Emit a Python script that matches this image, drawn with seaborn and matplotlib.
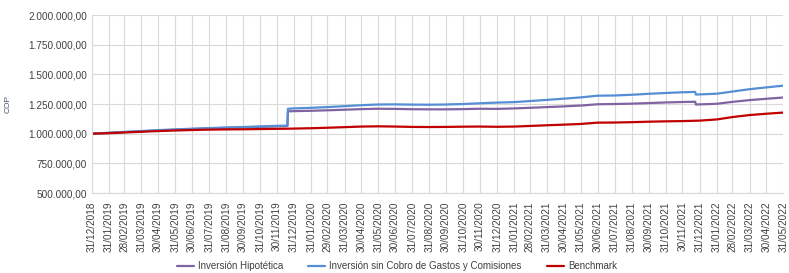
import matplotlib
matplotlib.use("Agg")
import matplotlib.pyplot as plt
import matplotlib.dates as mdates
import matplotlib.ticker as mticker
import pandas as pd
import seaborn as sns

# fechas (incluye los saltos de dic-2019 y dic-2021)
dates = (
    list(pd.date_range("2018-12-31", "2019-11-30", freq="ME").strftime("%Y-%m-%d"))
    + ["2019-12-19", "2019-12-20"]
    + list(pd.date_range("2019-12-31", "2021-11-30", freq="ME").strftime("%Y-%m-%d"))
    + ["2021-12-23", "2021-12-24"]
    + list(pd.date_range("2021-12-31", "2022-05-31", freq="ME").strftime("%Y-%m-%d"))
)

inversion_hipotetica = [
    1000000, 1006000, 1013000, 1020000, 1027000, 1033000, 1039000, 1044000, 1049000, 1053000, 1058000, 1062000,
    1064000, 1188000,
    1190000, 1193000, 1197000, 1202000, 1207000, 1210000, 1209000, 1206000, 1205000, 1205000, 1207000, 1210000,
    1209000, 1213000, 1218000, 1224000, 1230000, 1237000, 1248000, 1250000, 1253000, 1258000, 1263000, 1267000,
    1269000, 1246000,
    1247000, 1252000, 1268000, 1283000, 1294000, 1305000,
]
inversion_sin_gastos = [
    1000000, 1008000, 1015000, 1022000, 1030000, 1036000, 1042000, 1047000, 1052000, 1056000, 1061000, 1066000,
    1068000, 1210000,
    1213000, 1218000, 1224000, 1232000, 1240000, 1246000, 1247000, 1245000, 1244000, 1246000, 1250000, 1256000,
    1262000, 1266000, 1275000, 1285000, 1295000, 1306000, 1320000, 1322000, 1328000, 1336000, 1343000, 1349000,
    1352000, 1330000,
    1331000, 1337000, 1355000, 1375000, 1390000, 1405000,
]
benchmark = [
    1000000, 1004000, 1010000, 1016000, 1022000, 1027000, 1031000, 1034000, 1036000, 1037000, 1039000, 1041000,
    1042000, 1042000,
    1043000, 1046000, 1050000, 1055000, 1060000, 1062000, 1060000, 1057000, 1056000, 1057000, 1059000, 1060000,
    1058000, 1060000, 1065000, 1071000, 1076000, 1082000, 1093000, 1094000, 1097000, 1101000, 1104000, 1106000,
    1109000, 1109000,
    1110000, 1120000, 1140000, 1157000, 1168000, 1178000,
]

series_names = ["Inversión Hipotética", "Inversión sin Cobro de Gastos y Comisiones", "Benchmark"]
colors = ["#8064A2", "#558ED5", "#C00000"]

df = pd.concat([
    pd.DataFrame({"fecha": pd.to_datetime(dates), "valor": vals, "serie": name})
    for name, vals in zip(series_names, [inversion_hipotetica, inversion_sin_gastos, benchmark])
])

sns.set_style("white")
plt.rcParams["font.family"] = ["Liberation Sans", "DejaVu Sans"]

fig = plt.figure(figsize=(7.89, 2.73), dpi=100)
ax = fig.add_axes([0.116, 0.293, 0.877, 0.652])

sns.lineplot(data=df, x="fecha", y="valor", hue="serie", hue_order=series_names,
             palette=colors, estimator=None, sort=False, linewidth=1.6, ax=ax)

# ejes
ax.set_ylim(500000, 2000000)
ax.yaxis.set_major_locator(mticker.MultipleLocator(250000))
ax.yaxis.set_major_formatter(mticker.FuncFormatter(
    lambda v, p: f"{v:,.2f}".replace(",", "X").replace(".", ",").replace("X", ".")))

month_ticks = pd.date_range("2018-12-31", "2022-05-31", freq="ME")
ax.set_xlim(month_ticks[0], month_ticks[-1])
ax.xaxis.set_major_locator(mticker.FixedLocator(mdates.date2num(month_ticks)))
ax.xaxis.set_major_formatter(mdates.DateFormatter("%d/%m/%Y"))
plt.setp(ax.get_xticklabels(), rotation=90)

ax.tick_params(axis="both", labelsize=7.2, colors="#404040", length=0, pad=3)
ax.tick_params(axis="x", length=3, color="#D9D9D9")
ax.grid(True, color="#D9D9D9", linewidth=0.8)
for s in ["top", "right"]:
    ax.spines[s].set_visible(False)
ax.spines["left"].set_color("#D9D9D9")
ax.spines["bottom"].set_color("#D9D9D9")

ax.set_xlabel("")
ax.set_ylabel("COP", fontsize=6, color="#44546A", labelpad=12)

handles, labels = ax.get_legend_handles_labels()
ax.get_legend().remove()
fig.legend(handles, labels, loc="lower center", bbox_to_anchor=(0.503, -0.025), ncol=3,
           frameon=False, fontsize=7, handlelength=1.75, handletextpad=0.4,
           columnspacing=2.6, labelcolor="#404040")

fig.savefig("out.png", dpi=100)
